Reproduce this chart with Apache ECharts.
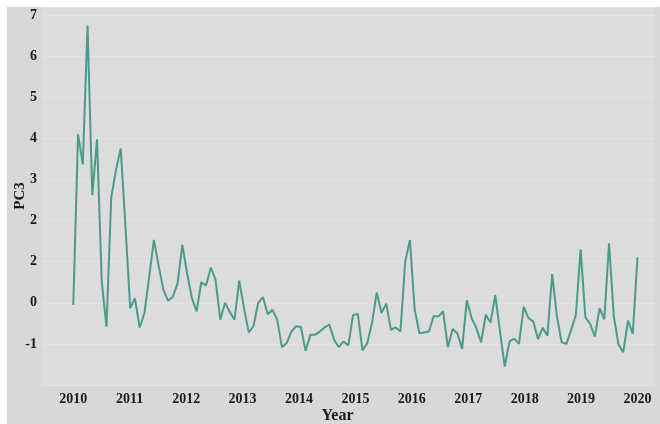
<!DOCTYPE html>
<html>
<head>
<meta charset="utf-8">
<script src="https://cdn.jsdelivr.net/npm/echarts@6/dist/echarts.min.js"></script>
<style>
  html, body { margin: 0; padding: 0; background: #ffffff; }
  #chart { position: absolute; left: 7px; top: 7px; width: 653px; height: 417px; }
</style>
</head>
<body>
<div id="chart"></div>
<script>
// Monthly PC3 scores, January 2010 onward (120 months)
const pc3Values = [
  -0.05, 4.10, 3.37, 6.75, 2.62, 3.98, 0.51, -0.58, 2.57, 3.23, 3.76, 1.85,
  -0.13, 0.11, -0.60, -0.25, 0.64, 1.53, 0.90, 0.32, 0.05, 0.15, 0.48, 1.41,
  0.72, 0.12, -0.21, 0.50, 0.42, 0.86, 0.56, -0.41, 0.00, -0.22, -0.41, 0.54,
  -0.13, -0.72, -0.57, 0.00, 0.14, -0.28, -0.17, -0.41, -1.08, -0.98, -0.70, -0.57,
  -0.59, -1.17, -0.78, -0.78, -0.70, -0.60, -0.53, -0.90, -1.08, -0.94, -1.04, -0.30,
  -0.27, -1.16, -0.98, -0.49, 0.25, -0.25, -0.02, -0.66, -0.60, -0.70, 1.00, 1.53,
  -0.17, -0.74, -0.72, -0.70, -0.32, -0.33, -0.21, -1.08, -0.64, -0.74, -1.12, 0.06,
  -0.37, -0.61, -0.96, -0.29, -0.48, 0.19, -0.70, -1.55, -0.94, -0.87, -1.00, -0.10,
  -0.37, -0.45, -0.88, -0.61, -0.80, 0.70, -0.33, -0.96, -1.00, -0.66, -0.29, 1.30,
  -0.35, -0.51, -0.82, -0.13, -0.40, 1.45, -0.33, -1.02, -1.20, -0.43, -0.75, 1.11
];

// Time position of the first and last observation
const startYear = 2010;
const endYear = 2020;

// Axis tick labels
const yearTicks = [2010, 2011, 2012, 2013, 2014, 2015, 2016, 2017, 2018, 2019, 2020];
const yTickValues = [-2, -1, 0, 1, 2, 3, 4, 5, 6, 7];
const yTickLabels = ['', '-1', '0', '2', '2', '3', '4', '5', '6', '7'];

const step = (endYear - startYear) / (pc3Values.length - 1);
const seriesData = pc3Values.map((v, i) => [startYear + i * step, v]);

const labelFont = {
  fontFamily: '"Liberation Serif", "DejaVu Serif", serif',
  fontWeight: 'bold',
  color: '#1a1a1a'
};

const chart = echarts.init(document.getElementById('chart'), null, { renderer: 'canvas' });
chart.setOption({
  backgroundColor: '#d8d8d8',
  animation: false,
  grid: {
    left: 35, right: 5, top: 0, bottom: 39,
    containLabel: false,
    outerBoundsMode: 'none',
    show: true,
    backgroundColor: '#dcdcdc',
    borderWidth: 0
  },
  xAxis: {
    type: 'value',
    min: 2009.445,
    max: 2020.31,
    name: 'Year',
    nameLocation: 'middle',
    nameGap: 23,
    nameMoveOverlap: false,
    nameTextStyle: Object.assign({ fontSize: 16, padding: [0, 22, 0, 0] }, labelFont),
    axisLine: { show: false },
    axisTick: { show: false },
    splitLine: { show: false },
    axisLabel: Object.assign({
      fontSize: 14,
      margin: 7,
      customValues: yearTicks,
      formatter: v => String(Math.round(v))
    }, labelFont)
  },
  yAxis: {
    type: 'value',
    min: -2,
    max: 7.2,
    interval: 1,
    name: 'PC3',
    nameLocation: 'middle',
    nameRotate: 90,
    nameGap: 14,
    nameMoveOverlap: false,
    nameTextStyle: Object.assign({ fontSize: 15 }, labelFont),
    axisLine: { show: false },
    axisTick: { show: false },
    splitLine: { show: true, lineStyle: { color: '#e3e3e3', width: 1 } },
    axisLabel: Object.assign({
      fontSize: 14,
      margin: 5,
      formatter: v => {
        const idx = yTickValues.indexOf(Math.round(v * 100) / 100);
        return idx >= 0 ? yTickLabels[idx] : '';
      }
    }, labelFont)
  },
  series: [{
    type: 'line',
    data: seriesData,
    showSymbol: false,
    symbol: 'none',
    lineStyle: { color: '#4c9a8b', width: 2 },
    itemStyle: { color: '#4c9a8b' }
  }]
});
</script>
</body>
</html>
